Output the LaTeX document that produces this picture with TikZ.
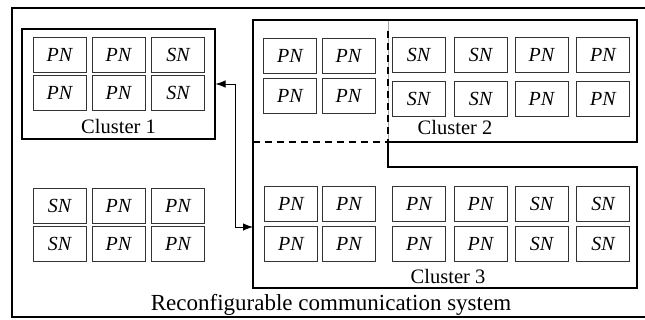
\documentclass[tikz,border=0pt]{standalone}
\usepackage{fontspec}
\setmainfont{Liberation Serif}
\usetikzlibrary{arrows.meta}
\begin{document}
\begin{tikzpicture}[x=1pt,y=-1pt,
  nd/.style={draw=black!80,line width=0.7pt,minimum width=53pt,minimum height=35pt,inner sep=0pt,font=\fontsize{20}{22}\selectfont\itshape},
  clbox/.style={draw=black,line width=1.1pt,inner sep=0pt},
  lbl/.style={inner sep=0pt,font=\fontsize{20.5}{22}\selectfont},
  dsh/.style={line width=1.1pt,dash pattern=on 7pt off 5pt}]
\useasboundingbox (0,0) rectangle (645,320);
% outer system box
\draw[line width=1.8pt] (660,8) -- (12,8) -- (12,317) -- (660,317);
\node[lbl,font=\fontsize{23}{26}\selectfont] (sys) at (331,305) {Reconfigurable communication system};
% cluster 1
\node[clbox,minimum width=193pt,minimum height=110pt] (c1) at (118.5,84) {};
\node[nd] (a11) at (59.5,54.5) {PN};
\node[nd] (a12) at (118.5,54.5) {PN};
\node[nd] (a13) at (178,54.5) {SN};
\node[nd] (a21) at (59.5,92.5) {PN};
\node[nd] (a22) at (118.5,92.5) {PN};
\node[nd] (a23) at (178,92.5) {SN};
\node[lbl] (l1) at (118.5,126) {Cluster 1};
% free nodes
\node[nd] (f11) at (59.5,205.5) {SN};
\node[nd] (f12) at (118.5,205.5) {PN};
\node[nd] (f13) at (178,205.5) {PN};
\node[nd] (f21) at (59.5,244) {SN};
\node[nd] (f22) at (118.5,244) {PN};
\node[nd] (f23) at (178,244) {PN};
% cluster 2 and 3 outlines
\coordinate (tl) at (253,20);
\coordinate (tr) at (637,20);
\coordinate (mr) at (637,142);
\coordinate (mm) at (388,142);
\coordinate (ml) at (253,142);
\coordinate (tm) at (388,20);
\coordinate (sm) at (388,167);
\coordinate (sr) at (637,167);
\coordinate (br) at (637,288);
\coordinate (bl) at (253,288);
\draw[black!35,line width=0.6pt] (tm) -- (sm);
\draw[line width=1.1pt] (mm) -- (mr) -- (tr) -- (tl) -- (bl) -- (br) -- (sr) -- (sm) -- (mm);
\draw[dsh] (ml) -- (mm);
\draw[dsh] ([yshift=-11pt]tm) -- (mm);
% cluster 2 nodes
\node[nd] (b11) at (290,55.5) {PN};
\node[nd] (b12) at (348.5,55.5) {PN};
\node[nd] (b21) at (290,95.5) {PN};
\node[nd] (b22) at (348.5,95.5) {PN};
\node[nd] (b13) at (418.5,54.5) {SN};
\node[nd] (b14) at (480.5,54.5) {SN};
\node[nd] (b15) at (541.5,54.5) {PN};
\node[nd] (b16) at (603,54.5) {PN};
\node[nd] (b23) at (418.5,98.5) {SN};
\node[nd] (b24) at (480.5,98.5) {SN};
\node[nd] (b25) at (541.5,98.5) {PN};
\node[nd] (b26) at (603,98.5) {PN};
\node[lbl] (l2) at (455,127) {Cluster 2};
% cluster 3 nodes
\node[nd] (c11) at (291,203.5) {PN};
\node[nd] (c12) at (349,203.5) {PN};
\node[nd] (c13) at (419,203.5) {PN};
\node[nd] (c14) at (480.5,203.5) {PN};
\node[nd] (c15) at (541.5,203.5) {SN};
\node[nd] (c16) at (603,203.5) {SN};
\node[nd] (c21) at (291,243.5) {PN};
\node[nd] (c22) at (349,243.5) {PN};
\node[nd] (c23) at (419,243.5) {PN};
\node[nd] (c24) at (480.5,243.5) {PN};
\node[nd] (c25) at (541.5,243.5) {SN};
\node[nd] (c26) at (603,243.5) {SN};
\node[lbl] (l3) at (448,276) {Cluster 3};
% reconfiguration arrow
\coordinate (c3w) at (253,227);
\coordinate (k1) at (235,84);
\coordinate (k2) at (235,227);
\draw[line width=0.8pt,{Latex[length=10pt,width=7.5pt]}-{Latex[length=10pt,width=7.5pt]}] (c1.east) -- (k1) -- (k2) -- (c3w);
\end{tikzpicture}
\end{document}
